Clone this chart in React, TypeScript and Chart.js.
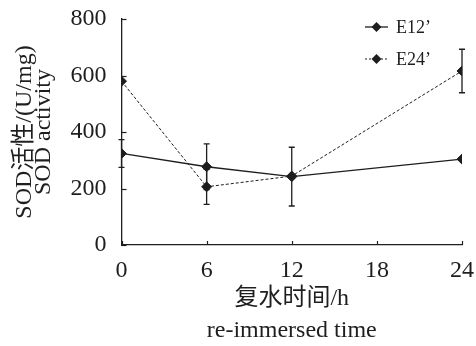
import React, { useEffect, useRef } from "react";
import { Chart, registerables } from "chart.js";

Chart.register(...registerables);

const timePoints = [0, 6, 12, 24];
const e12Values = [324, 277, 242, 304];
const e12Errors = [49, 81, 104, 0];
const e24Values = [580, 206, 244, 616];
const e24Errors = [0, 62, 0, 77];
const seriesNames = ["E12\u2019", "E24\u2019"];
const xTicks = [0, 6, 12, 18, 24];
const yTicks = [0, 200, 400, 600, 800];
const xTitle = ["复水时间/h", "re-immersed time"];
const yTitle = ["SOD活性/(U/mg)", "SOD activity"];

const SERIF = "'Liberation Serif', 'Times New Roman', 'Noto Sans CJK SC', serif";
const INK = "#1e1e1e";

const errorBarPlugin = {
  id: "errorBars",
  afterDatasetsDraw(chart: any) {
    const ctx = chart.ctx;
    const xs = chart.scales.x;
    const ys = chart.scales.y;
    const sets = [
      { v: e12Values, e: e12Errors },
      { v: e24Values, e: e24Errors },
    ];
    ctx.save();
    ctx.strokeStyle = INK;
    ctx.lineWidth = 1.3;
    ctx.setLineDash([]);
    sets.forEach((s) => {
      timePoints.forEach((t, i) => {
        const err = s.e[i];
        if (!err) return;
        const px = xs.getPixelForValue(t);
        const top = ys.getPixelForValue(s.v[i] + err);
        const bot = ys.getPixelForValue(s.v[i] - err);
        ctx.beginPath();
        ctx.moveTo(px, top);
        ctx.lineTo(px, bot);
        ctx.moveTo(px - 3, top);
        ctx.lineTo(px + 3, top);
        ctx.moveTo(px - 3, bot);
        ctx.lineTo(px + 3, bot);
        ctx.stroke();
      });
    });
    ctx.restore();
  },
};

const innerTicksPlugin = {
  id: "innerTicks",
  afterDraw(chart: any) {
    const ctx = chart.ctx;
    const xs = chart.scales.x;
    const ys = chart.scales.y;
    const area = chart.chartArea;
    ctx.save();
    ctx.strokeStyle = INK;
    ctx.lineWidth = 1.2;
    yTicks.forEach((v) => {
      const py = Math.round(ys.getPixelForValue(v)) + 0.5;
      ctx.beginPath();
      ctx.moveTo(area.left, py);
      ctx.lineTo(area.left + 5, py);
      ctx.stroke();
    });
    xTicks.forEach((v) => {
      const px = Math.round(xs.getPixelForValue(v)) + 0.5;
      ctx.beginPath();
      ctx.moveTo(px, area.bottom);
      ctx.lineTo(px, area.bottom - 4);
      ctx.stroke();
    });
    ctx.restore();
  },
};

const drawDiamond = (ctx: any, x: number, y: number, r: number) => {
  ctx.beginPath();
  ctx.moveTo(x, y - r);
  ctx.lineTo(x + r, y);
  ctx.lineTo(x, y + r);
  ctx.lineTo(x - r, y);
  ctx.closePath();
  ctx.fill();
};

const legendPlugin = {
  id: "customLegend",
  afterDraw(chart: any) {
    const ctx = chart.ctx;
    const area = chart.chartArea;
    const x0 = area.right - 97;
    const x1 = area.right - 74;
    const rows = [area.top + 8, area.top + 40];
    ctx.save();
    ctx.strokeStyle = INK;
    ctx.fillStyle = INK;
    rows.forEach((y, i) => {
      ctx.lineWidth = i === 0 ? 1.3 : 1;
      ctx.setLineDash(i === 0 ? [] : [2, 2]);
      ctx.beginPath();
      ctx.moveTo(x0, y);
      ctx.lineTo(x1, y);
      ctx.stroke();
      ctx.setLineDash([]);
      drawDiamond(ctx, (x0 + x1) / 2, y, 5);
      ctx.font = `18px ${SERIF}`;
      ctx.textAlign = "left";
      ctx.textBaseline = "middle";
      ctx.fillText(seriesNames[i], x1 + 8, y + 1);
    });
    ctx.restore();
  },
};

export default function App() {
  const canvasRef = useRef<HTMLCanvasElement | null>(null);

  useEffect(() => {
    if (!canvasRef.current) return;
    const chart = new Chart(canvasRef.current, {
      type: "line",
      data: {
        datasets: [
          {
            label: seriesNames[0],
            data: timePoints.map((t, i) => ({ x: t, y: e12Values[i] })),
            borderColor: INK,
            backgroundColor: INK,
            borderWidth: 1.3,
            pointStyle: "rectRot",
            pointRadius: 5,
            pointBorderWidth: 1,
            tension: 0,
          },
          {
            label: seriesNames[1],
            data: timePoints.map((t, i) => ({ x: t, y: e24Values[i] })),
            borderColor: INK,
            backgroundColor: INK,
            borderWidth: 1,
            borderDash: [3, 2],
            pointStyle: "rectRot",
            pointRadius: 5,
            pointBorderWidth: 1,
            tension: 0,
          },
        ],
      },
      options: {
        animation: false,
        responsive: false,
        maintainAspectRatio: false,
        layout: { padding: { top: 19, right: 14, bottom: 0, left: 15 } },
        plugins: {
          legend: { display: false },
          tooltip: { enabled: false },
        },
        scales: {
          x: {
            type: "linear",
            min: 0,
            max: 24,
            afterBuildTicks: (scale: any) => {
              scale.ticks = xTicks.map((v) => ({ value: v }));
            },
            afterFit: (scale: any) => {
              scale.height = 101;
              scale.paddingLeft = 0;
              scale.paddingRight = 0;
            },
            grid: { display: false, drawTicks: false },
            border: { display: true, color: INK, width: 1.3 },
            ticks: {
              color: INK,
              font: { family: SERIF, size: 24 },
              padding: 11,
              maxRotation: 0,
            },
            title: {
              display: true,
              text: xTitle,
              color: INK,
              font: { family: SERIF, size: 24, lineHeight: 1.3 },
              padding: { top: 0, bottom: 0 },
            },
          },
          y: {
            type: "linear",
            min: 0,
            max: 800,
            afterBuildTicks: (scale: any) => {
              scale.ticks = yTicks.map((v) => ({ value: v }));
            },
            afterFit: (scale: any) => {
              scale.width = 106.5;
              scale.paddingTop = 0;
              scale.paddingBottom = 0;
            },
            grid: { display: false, drawTicks: false },
            border: { display: true, color: INK, width: 1.3 },
            ticks: {
              color: INK,
              font: { family: SERIF, size: 24 },
              padding: 15,
            },
            title: {
              display: true,
              text: yTitle,
              color: INK,
              font: { family: SERIF, size: 24, lineHeight: 0.81 },
              padding: { top: 0, bottom: 4 },
            },
          },
        },
      },
      plugins: [errorBarPlugin, innerTicksPlugin, legendPlugin],
    });
    return () => chart.destroy();
  }, []);

  return (
    <div style={{ position: "fixed", left: 0, top: 0, width: 476, height: 346, background: "#fff" }}>
      <canvas ref={canvasRef} width={476} height={346} style={{ display: "block" }} />
    </div>
  );
}
